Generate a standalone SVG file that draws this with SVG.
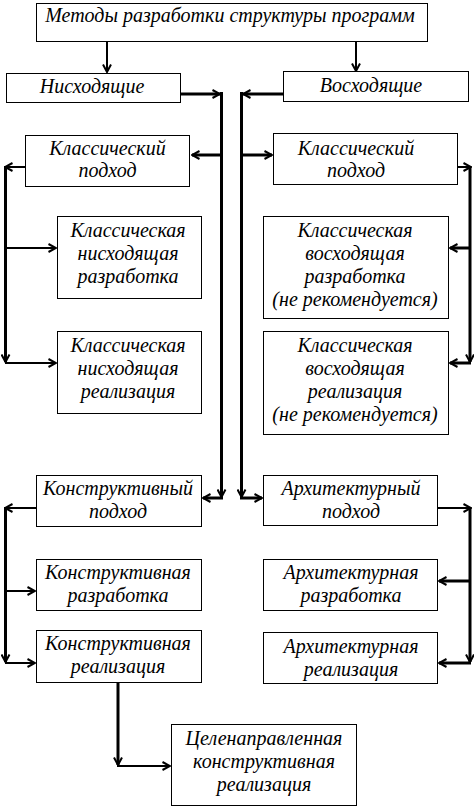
<svg xmlns="http://www.w3.org/2000/svg" width="474" height="808" viewBox="0 0 474 808">
<style>
.box{fill:#fff;stroke:#000;stroke-width:1}
.c{fill:none;stroke:#000;stroke-linecap:butt}
.w2{stroke-width:2}
.w3{stroke-width:3}
</style>
<defs>
<marker id="a" markerUnits="userSpaceOnUse" viewBox="0 0 10 10" markerWidth="10" markerHeight="10" refX="9" refY="5" orient="auto">
<path d="M1.5,1 L9,5 L1.5,9" fill="none" stroke="#000" stroke-width="2"/>
</marker>
</defs>
<rect width="474" height="808" fill="#fff"/>
<g id="connectors">
<line class="c w2" x1="107" y1="42" x2="107" y2="72" marker-end="url(#a)"/>
<line class="c w2" x1="356" y1="42" x2="356" y2="71" marker-end="url(#a)"/>
<line class="c w3" x1="180" y1="94" x2="220" y2="94" marker-end="url(#a)"/>
<line class="c w3" x1="283" y1="94" x2="243" y2="94" marker-end="url(#a)"/>
<line class="c w3" x1="221.5" y1="92" x2="221.5" y2="497" marker-end="url(#a)"/>
<line class="c w3" x1="241.5" y1="92" x2="241.5" y2="497" marker-end="url(#a)"/>
<line class="c w3" x1="221" y1="155" x2="192" y2="155" marker-end="url(#a)"/>
<line class="c w3" x1="242" y1="155" x2="272" y2="155" marker-end="url(#a)"/>
<line class="c w3" x1="223" y1="498" x2="203" y2="498" marker-end="url(#a)"/>
<line class="c w3" x1="240" y1="498" x2="262" y2="498" marker-end="url(#a)"/>
<line class="c w2" x1="25" y1="167" x2="5" y2="167" marker-end="url(#a)"/>
<line class="c w3" x1="5.5" y1="166" x2="5.5" y2="362" marker-end="url(#a)"/>
<line class="c w2" x1="5" y1="248" x2="56" y2="248" marker-end="url(#a)"/>
<line class="c w2" x1="5" y1="363" x2="56" y2="363" marker-end="url(#a)"/>
<line class="c w2" x1="458" y1="167" x2="471" y2="167" marker-end="url(#a)"/>
<line class="c w3" x1="470" y1="166" x2="470" y2="362" marker-end="url(#a)"/>
<line class="c w3" x1="471" y1="248" x2="450" y2="248" marker-end="url(#a)"/>
<line class="c w3" x1="471" y1="363" x2="450" y2="363" marker-end="url(#a)"/>
<line class="c w2" x1="36" y1="508" x2="5" y2="508" marker-end="url(#a)"/>
<line class="c w3" x1="5.5" y1="507" x2="5.5" y2="662" marker-end="url(#a)"/>
<line class="c w2" x1="5" y1="591" x2="35" y2="591" marker-end="url(#a)"/>
<line class="c w2" x1="5" y1="663" x2="35" y2="663" marker-end="url(#a)"/>
<line class="c w2" x1="438" y1="508" x2="471" y2="508" marker-end="url(#a)"/>
<line class="c w3" x1="470" y1="507" x2="470" y2="662" marker-end="url(#a)"/>
<line class="c w3" x1="471" y1="581" x2="439" y2="581" marker-end="url(#a)"/>
<line class="c w3" x1="471" y1="663" x2="439" y2="663" marker-end="url(#a)"/>
<line class="c w3" x1="118" y1="683" x2="118" y2="765" marker-end="url(#a)"/>
<line class="c w2" x1="117" y1="766" x2="170" y2="766" marker-end="url(#a)"/>
</g>
<g id="nodes" font-family="Liberation Serif, Times New Roman, serif" font-style="italic" font-size="20" text-anchor="middle" fill="#000">
<g id="root"><rect class="box" x="36.5" y="3.5" width="391" height="38"/><text x="230" y="22">Методы разработки структуры программ</text></g>
<g id="desc"><rect class="box" x="6.5" y="73.5" width="174" height="29"/><text x="92" y="93">Нисходящие</text></g>
<g id="asc"><rect class="box" x="283.5" y="71.5" width="185" height="30"/><text x="371" y="92">Восходящие</text></g>
<g id="classicL"><rect class="box" x="25.5" y="135.5" width="164" height="51"/><text x="107.5" y="155">Классический</text><text x="107.5" y="177">подход</text></g>
<g id="classicR"><rect class="box" x="273.5" y="133.5" width="184" height="51"/><text x="356" y="155">Классический</text><text x="356" y="177">подход</text></g>
<g id="cnd"><rect class="box" x="57.5" y="216.5" width="144" height="82"/><text x="128" y="237">Классическая</text><text x="128" y="260">нисходящая</text><text x="128" y="283">разработка</text></g>
<g id="cnr"><rect class="box" x="57.5" y="331.5" width="144" height="82"/><text x="128" y="352">Классическая</text><text x="128" y="375">нисходящая</text><text x="128" y="398">реализация</text></g>
<g id="cvd"><rect class="box" x="263.5" y="216.5" width="185" height="102"/><text x="355" y="237">Классическая</text><text x="355" y="260">восходящая</text><text x="355" y="283">разработка</text><text x="355" y="306">(не рекомендуется)</text></g>
<g id="cvr"><rect class="box" x="263.5" y="331.5" width="185" height="103"/><text x="355" y="352">Классическая</text><text x="355" y="375">восходящая</text><text x="355" y="398">реализация</text><text x="355" y="421">(не рекомендуется)</text></g>
<g id="constr"><rect class="box" x="36.5" y="475.5" width="165" height="51"/><text x="118" y="495">Конструктивный</text><text x="118" y="518">подход</text></g>
<g id="arch"><rect class="box" x="263.5" y="475.5" width="174" height="50"/><text x="351" y="495">Архитектурный</text><text x="351" y="518">подход</text></g>
<g id="constrDev"><rect class="box" x="36.5" y="559.5" width="165" height="51"/><text x="118" y="579">Конструктивная</text><text x="118" y="602">разработка</text></g>
<g id="archDev"><rect class="box" x="263.5" y="559.5" width="174" height="51"/><text x="351" y="579">Архитектурная</text><text x="351" y="602">разработка</text></g>
<g id="constrImpl"><rect class="box" x="36.5" y="630.5" width="165" height="52"/><text x="118" y="650">Конструктивная</text><text x="118" y="673">реализация</text></g>
<g id="archImpl"><rect class="box" x="263.5" y="632.5" width="174" height="51"/><text x="351" y="653">Архитектурная</text><text x="351" y="676">реализация</text></g>
<g id="goal"><rect class="box" x="171.5" y="724.5" width="185" height="81"/><text x="264" y="745">Целенаправленная</text><text x="264" y="768">конструктивная</text><text x="264" y="791">реализация</text></g>
</g>
</svg>
